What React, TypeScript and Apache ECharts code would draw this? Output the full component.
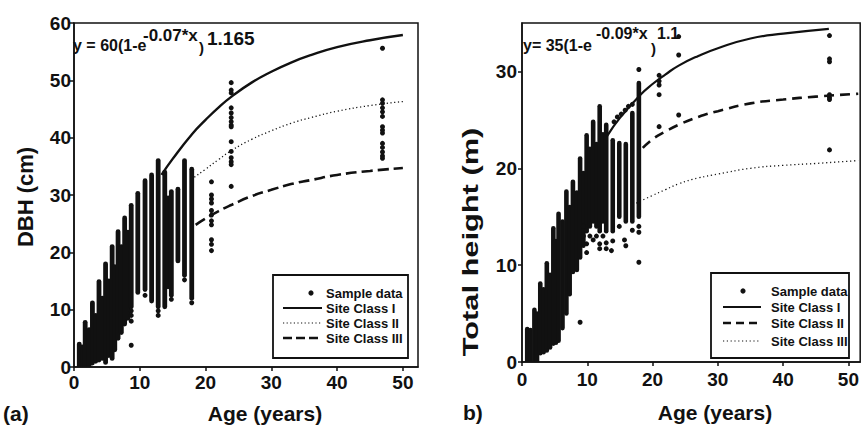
import React, { useEffect, useRef } from "react";
import * as echarts from "echarts";

// ---------------- Panel (a): DBH ----------------
// dense columns of sample points: age, lowest and highest DBH of the column
const dbhColumnAge = [0.8, 1.3, 1.7, 2.3, 2.8, 3.3, 3.8, 4.3, 4.8, 5.3, 5.8, 6.2, 6.7, 7.2, 7.7, 8.2, 8.7, 9.7, 10.8, 11.8, 12.8, 13.8, 14.3, 14.8, 15.8, 16.8, 17.9];
const dbhColumnLow = [0, 0, 0, 0.3, 0.7, 1.0, 1.2, 1.5, 0.8, 2.0, 1.5, 3.0, 5.0, 6.0, 7.5, 8.5, 10.5, 13.0, 13.5, 11.5, 10.5, 10.5, 14.0, 12.5, 18.5, 16.0, 12.0];
const dbhColumnHigh = [4.0, 3.5, 7.8, 6.5, 11.2, 9.0, 14.9, 12.0, 18.0, 15.0, 21.0, 17.5, 23.6, 21.0, 26.0, 23.5, 28.2, 30.3, 32.5, 33.5, 36.0, 34.0, 29.5, 30.6, 31.0, 36.0, 34.5];
// isolated sample points
const dbhPointAge = [8.7, 8.7, 8.7, 8.7, 10.8, 12.8, 12.8, 14.8, 17.9, 16.8,
  20.9, 20.9, 20.9, 20.9, 20.9, 20.9, 20.9, 20.9, 20.9, 20.9, 20.9,
  23.9, 23.9, 23.9, 23.9, 23.9, 23.9, 23.9, 23.9, 23.9, 23.9, 23.9, 23.9, 23.9, 23.9, 23.9,
  46.9, 46.9, 46.9, 46.9, 46.9, 46.9, 46.9, 46.9, 46.9, 46.9, 46.9, 46.9, 46.9, 46.9];
const dbhPointValue = [3.8, 8.0, 9.0, 9.8, 12.5, 9.0, 9.8, 11.8, 11.2, 15.2,
  32.3, 30.0, 29.3, 28.6, 27.3, 26.5, 25.5, 24.8, 22.2, 21.4, 20.3,
  49.6, 48.3, 47.8, 45.2, 44.3, 43.5, 42.8, 42.2, 41.9, 39.3, 37.6, 36.5, 35.8, 35.3, 31.5,
  55.6, 46.6, 46.0, 45.2, 44.5, 43.7, 41.9, 41.3, 40.8, 39.0, 38.3, 37.5, 36.8, 36.4];
// site class curves
const dbhAgeI = [13.3, 15, 18, 20, 22, 24, 27, 30, 33, 36, 40, 45, 50];
const dbhSiteI = [33.5, 36.3, 40.7, 43.1, 45.3, 47.2, 49.6, 51.5, 53.1, 54.4, 55.8, 57.0, 57.9];
const dbhAgeII = [18.3, 20, 22, 24, 27, 30, 33, 36, 40, 45, 50];
const dbhSiteII = [33.1, 34.5, 36.2, 37.8, 39.7, 41.2, 42.5, 43.5, 44.6, 45.6, 46.3];
const dbhAgeIII = [18.5, 20, 22, 24, 27, 30, 33, 36, 40, 45, 50];
const dbhSiteIII = [24.8, 25.9, 27.2, 28.3, 29.8, 30.9, 31.9, 32.6, 33.5, 34.2, 34.7];

// ---------------- Panel (b): Total height ----------------
const htColumnAge = [0.8, 1.3, 1.9, 2.3, 2.8, 3.3, 3.8, 4.3, 4.8, 5.2, 5.6, 6.2, 6.8, 7.3, 7.8, 8.4, 8.9, 9.4, 9.9, 10.4, 10.9, 11.4, 11.9, 12.4, 12.9, 13.9, 14.9, 15.9, 16.9, 17.9];
const htColumnLow = [0, 0, 0, 0, 0.9, 1.0, 1.2, 1.5, 1.9, 2.0, 2.2, 3.5, 5.0, 7.0, 9.3, 9.5, 10.8, 12.0, 13.5, 14.0, 14.5, 14.0, 13.5, 14.5, 13.5, 13.5, 15.0, 14.5, 14.5, 15.0];
const htColumnHigh = [3.4, 3.3, 5.4, 5.0, 8.1, 7.5, 10.2, 9.0, 13.8, 12.5, 15.3, 14.5, 17.6, 16.0, 18.6, 17.5, 21.0, 19.5, 23.4, 22.0, 24.8, 22.5, 26.4, 23.5, 24.5, 22.9, 22.6, 22.5, 25.7, 28.8];
const htPointAge = [8.9, 9.4, 9.4, 9.9, 9.9, 10.4, 10.9, 11.4, 11.9, 11.9, 12.4, 12.9, 12.9, 13.7, 13.9, 14.9, 15.7, 15.9, 16.9, 17.9, 17.9, 17.9, 17.9,
  14.1, 14.6, 15.2, 15.8, 16.3, 16.9,
  21.0, 21.0, 21.0, 21.0, 21.0,
  24.0, 24.0, 24.0,
  47.1, 47.1, 47.1, 47.1, 47.1, 47.1, 47.1];
const htPointValue = [4.1, 14.0, 13.0, 12.2, 11.3, 13.0, 12.6, 13.0, 12.2, 11.7, 13.0, 12.3, 11.7, 11.5, 12.5, 14.0, 12.6, 12.0, 13.6, 10.3, 30.2, 14.0, 13.4,
  24.8, 25.3, 25.6, 26.0, 26.4, 26.6,
  29.6, 29.0, 28.6, 27.6, 24.3,
  33.6, 31.7, 25.5,
  33.7, 31.3, 31.0, 27.6, 27.3, 27.1, 21.9];
const htAgeI = [13, 15, 18, 20, 22, 24, 27, 30, 35, 40, 47];
const htSiteI = [23.3, 25.2, 27.5, 28.7, 29.7, 30.6, 31.6, 32.4, 33.4, 33.9, 34.4];
const htAgeII = [18.5, 20, 22, 24, 27, 30, 35, 40, 45, 51.5];
const htSiteII = [22.1, 23.0, 23.8, 24.5, 25.3, 25.9, 26.7, 27.1, 27.4, 27.7];
const htAgeIII = [17.5, 20, 22, 24, 27, 30, 35, 40, 45, 51.5];
const htSiteIII = [16.4, 17.2, 17.8, 18.4, 19.0, 19.4, 20.0, 20.3, 20.5, 20.8];

const legendLabels = ["Sample data", "Site Class I", "Site Class II", "Site Class III"];

const INK = "#111111";
const FONT = "'Liberation Sans', Arial, Helvetica, sans-serif";

const pairs = (xs: number[], ys: number[]) => xs.map((x, i) => [x, ys[i]]);
const triples = (xs: number[], lo: number[], hi: number[]) => xs.map((x, i) => [x, lo[i], hi[i]]);

function bandSeries(idx: number, data: number[][], width: number) {
  return {
    type: "custom",
    xAxisIndex: idx,
    yAxisIndex: idx,
    silent: true,
    clip: true,
    encode: { x: 0, y: [1, 2] },
    data,
    renderItem: (_p: any, api: any) => {
      const a = api.coord([api.value(0), api.value(1)]);
      const b = api.coord([api.value(0), api.value(2)]);
      return {
        type: "line",
        shape: { x1: a[0], y1: a[1], x2: b[0], y2: b[1] },
        style: { stroke: INK, lineWidth: width, lineCap: "round" },
      };
    },
    z: 2,
  };
}

function scatterSeries(idx: number, data: number[][]) {
  return {
    type: "scatter",
    xAxisIndex: idx,
    yAxisIndex: idx,
    data,
    symbolSize: 5,
    itemStyle: { color: INK, opacity: 1 },
    silent: true,
    z: 2,
  };
}

function lineSeries(idx: number, xs: number[], ys: number[], type: any, width: number, name: string) {
  return {
    name,
    type: "line",
    xAxisIndex: idx,
    yAxisIndex: idx,
    data: pairs(xs, ys),
    smooth: true,
    showSymbol: false,
    silent: true,
    lineStyle: { color: INK, width, type, opacity: 1 },
    z: 3,
  };
}

function axisCommon(min: number, max: number, margin: number) {
  return {
    type: "value",
    min,
    max,
    interval: 10,
    axisLine: { show: true, onZero: false, lineStyle: { color: INK, width: 1.5 } },
    axisTick: { show: true, inside: false, length: 4, lineStyle: { color: INK, width: 1.5 } },
    axisLabel: { color: INK, fontSize: 19, fontWeight: "bold", fontFamily: FONT, margin, showMaxLabel: max % 10 === 0 },
    splitLine: { show: false },
  };
}

function txt(text: string, x: number, y: number, size: number, extra: any = {}) {
  return {
    type: "text",
    x,
    y,
    silent: true,
    ...extra,
    style: {
      text,
      fill: INK,
      fontSize: size,
      fontWeight: "bold",
      fontFamily: FONT,
      align: extra.align || "left",
      verticalAlign: "middle",
    },
  };
}

function legend(bx: number, by: number, bw: number, bh: number, dotX: number, lx1: number, lx2: number, tx: number, ys: number[], styles: any[]) {
  const els: any[] = [
    { type: "rect", shape: { x: bx, y: by, width: bw, height: bh }, style: { fill: "#fff", stroke: INK, lineWidth: 1.8 }, z: 10 },
    { type: "circle", shape: { cx: dotX, cy: ys[0], r: 2.6 }, style: { fill: INK }, z: 11 },
  ];
  for (let i = 1; i < 4; i++) {
    els.push({ type: "line", shape: { x1: lx1, y1: ys[i], x2: lx2, y2: ys[i] }, style: { stroke: INK, ...styles[i - 1] }, z: 11 });
  }
  legendLabels.forEach((t, i) => els.push({ ...txt(t, tx, ys[i], 13), z: 11 }));
  return els;
}

export default function App() {
  const ref = useRef<HTMLDivElement>(null);
  useEffect(() => {
    document.body.style.margin = "0";
    if (!ref.current) return;
    const chart = echarts.init(ref.current, null, { renderer: "svg" });
    const option: any = {
      animation: false,
      backgroundColor: "#fff",
      grid: [
        { left: 74, top: 23, width: 344, height: 344, show: true, borderColor: INK, borderWidth: 1.5, backgroundColor: "transparent" },
        { left: 522, top: 23, width: 339, height: 339, show: true, borderColor: INK, borderWidth: 1.5, backgroundColor: "transparent" },
      ],
      xAxis: [
        { ...axisCommon(0, 52.3, 6), gridIndex: 0 },
        { ...axisCommon(0, 51.8, 8), gridIndex: 1 },
      ],
      yAxis: [
        { ...axisCommon(0, 60, 3), gridIndex: 0 },
        { ...axisCommon(0, 35, 5), gridIndex: 1 },
      ],
      series: [
        bandSeries(0, triples(dbhColumnAge, dbhColumnLow, dbhColumnHigh), 4.8),
        scatterSeries(0, pairs(dbhPointAge, dbhPointValue)),
        lineSeries(0, dbhAgeI, dbhSiteI, "solid", 2.4, "Site Class I"),
        lineSeries(0, dbhAgeII, dbhSiteII, [1.2, 2.6], 1.3, "Site Class II"),
        lineSeries(0, dbhAgeIII, dbhSiteIII, [11, 5], 2.6, "Site Class III"),
        bandSeries(1, triples(htColumnAge, htColumnLow, htColumnHigh), 4.6),
        scatterSeries(1, pairs(htPointAge, htPointValue)),
        lineSeries(1, htAgeI, htSiteI, "solid", 2.2, "Site Class I"),
        lineSeries(1, htAgeII, htSiteII, [10, 6], 2.6, "Site Class II"),
        lineSeries(1, htAgeIII, htSiteIII, [1.2, 2.8], 1.3, "Site Class III"),
      ],
      graphic: [
        // equations
        txt("y = 60(1-e", 73, 45, 16),
        txt("-0.07*x", 143, 35, 17),
        txt(")", 199, 47, 15),
        txt("1.165", 207, 38, 19),
        txt("y= 35(1-e", 523, 45, 16),
        txt("-0.09*x", 596, 33, 16),
        txt(")", 651, 48, 15),
        txt("1.1", 657, 33, 16),
        // axis titles and panel labels
        txt("DBH (cm)", 25, 197, 22, { align: "center", rotation: Math.PI / 2 }),
        txt("Age (years)", 265, 413, 21, { align: "center" }),
        txt("(a)", 3, 413, 21),
        txt("Total height (m)", 471, 242, 22, { align: "center", rotation: Math.PI / 2, scaleX: 1.4 }),
        txt("Age (years)", 715, 412, 21, { align: "center" }),
        txt("b)", 463, 412, 21),
        ...legend(273, 275, 135, 83, 311, 283, 322, 326, [293, 308, 323, 338], [
          { lineWidth: 2 },
          { lineWidth: 1.2, lineDash: [1.2, 2.4] },
          { lineWidth: 2.4, lineDash: [9, 4] },
        ]),
        ...legend(711, 273, 138, 85, 743, 723, 761, 771, [291, 307, 323, 341], [
          { lineWidth: 2 },
          { lineWidth: 2.4, lineDash: [8, 5] },
          { lineWidth: 1.2, lineDash: [1.2, 2.6] },
        ]),
      ],
    };
    chart.setOption(option);
    return () => chart.dispose();
  }, []);
  return <div ref={ref} style={{ width: 862, height: 425 }} />;
}
